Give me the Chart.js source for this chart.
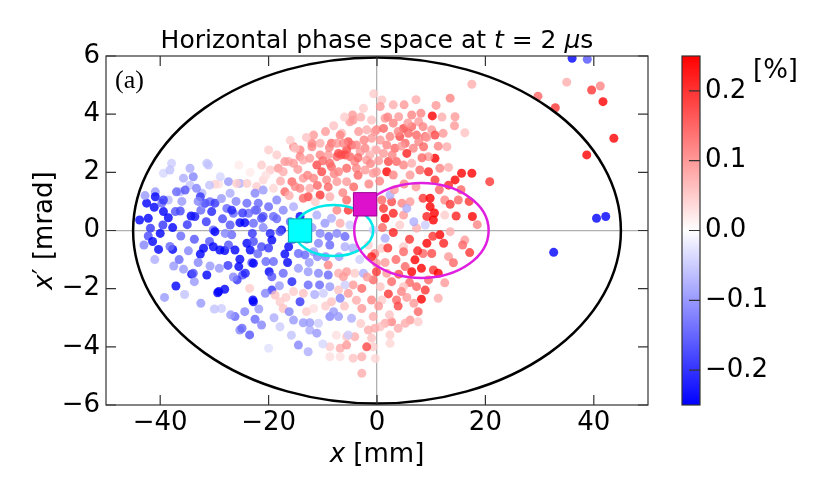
<!DOCTYPE html>
<html>
<head>
<meta charset="utf-8">
<script src="https://cdn.jsdelivr.net/npm/chart.js@4.4.1/dist/chart.umd.min.js"></script>
<style>
  html, body { margin: 0; padding: 0; background: #fff; }
  #wrap { width: 830px; height: 498px; }
</style>
</head>
<body>
<div id="wrap"><canvas id="phase"></canvas></div>
<script>
// particle positions x [mm], x' [mrad] and colour value dp [%]
const xs = [
  -43.8,-42.5,-41.1,-42.2,-41.8,-42.2,-41.4,-40.3,-40,-39.4,-38.5,-39.5,-37.7,-40.9,-39.7,-37.7,-38.2,-37.2,-36.3,-36.2,
  -37.5,-37.1,-39.2,-35.7,-34.2,-33.7,-34.3,-33.6,-33.7,-32.5,-32,-32.6,-32,-31.4,-30.8,-30.9,-30.8,-30.2,-30.5,-29.9,
  -30.2,-29.1,-29.4,-28.1,-29,-28.1,-27.4,-27.1,-27.4,-27.7,-26.5,-26.8,-26.2,-25.3,-24.4,-25.3,-25.5,-24.8,-24,-23.4,
  -23.7,-22.5,-23.1,-22.8,-25.3,-29.2,-24,-25.5,-37.9,-39.4,-31.1,-35.7,-33.9,-34.5,-28.9,-29.9,-27.1,-32.3,-36.3,-38.5,
  -30.9,-40.9,-39.4,-37,-35.4,-33.3,-32.6,-31.7,-29.9,-26.8,-21.9,-24,-21,-17.6,-38.2,-34.5,-31.4,-25.9,-22.2,-15.4,
  -14.2,-12,-4.4,-8.7,-33.9,
  -4.5,-5,-6.5,-3.4,-1.9,-1,-0.1,-6.8,-8.4,-7.4,-5.3,-4.7,-3.8,-2.4,-2.2,-5.6,-6.6,-5.9,-7.4,-7.1,
  -5,-3.1,-1.3,-1.9,-4.1,-0.4,-12,-11.7,-14.2,-15.1,-16.3,-17,-20,-21.3,-19.7,-18.2,-17.3,-15.4,-13.6,-12.4,
  -10.5,-9,-11.1,-10.2,-8.4,-7.1,-5.6,-3.8,-2.2,-0.7,-15.7,-17,-15.1,-14.2,-12.4,-13.6,-11.7,-9.3,-7.4,-5.6,
  -10.5,-12.7,-13.6,-11.4,-8.7,-5.6,-5.3,-7.4,-19.1,-21,-22.5,-21,-18.5,-20,-22.2,-21.3,-22.8,-19.1,-17.3,-15.4,
  -14.2,-19.7,-17.9,-16.3,-17,-19.4,-21.3,-22.8,-14.5,-13.3,-11.1,-9.6,-8.4,-10.5,-8.9,-7.4,-5.9,-8.7,-10.8,-6.8,
  -5,-5.9,-11.7,
  13.5,10.2,8.1,5,3,0.9,0.6,1.5,4,6.4,7.7,3,1.2,-0.4,4.9,6.4,8.5,10.1,14.4,14.3,
  16.2,12.2,10.7,8.9,7.3,5.8,4.2,2.4,0.6,5.2,7.7,8.6,6.7,5.5,3.3,1.8,-0.1,1.2,10.7,9.5,
  12.9,2.1,3.6,4.9,6.4,7.9,9.5,11.6,13.2,15.6,17.5,20.8,14.4,13.2,10.7,1.8,-0.1,3,6.1,0.9,
  2.7,4.6,6.1,8.5,9.8,12.5,15,9.8,10.6,1.2,3,4.9,1.5,9.2,10.4,14.6,17.6,12.5,3,4.2,
  7.3,11.6,9.2,10.3,12.3,16.2,4.9,1.5,5.5,6.8,8.9,2.4,-0.7,
  36,38.8,35,41.2,39.6,41.7,29.7,32.9,43.7,38.7,40.5,42.2,17.5,32.6,
  7,6.4,8.2,10.4,11.3,5.2,4.9,8.5,10.1,13.2,14.1,17.1,15.8,13.5,8.9,7.3,6,8.2,11.3,3.6,
  3.9,7.6,6.1,5.2,2.7,1.5,2.1,0.6,-0.4,2.4,3.9,7.6,2.4,-0.7,-0.7,-1,-0.7,2.7,0.9,0.6,
  4.9,1.8,-0.1,-0.4,
  -24.3,-25.8,-22.8,-20.5,-19.9,-19.1,-19.4,-17.3,-15.7,-16.5,-14.5,-12.7,-10.8,-9,-7.1,-5.6,-9,-6.2,-4.1,-2.5,
  -2.8,-4.4,-5.9,-7.1,-8.7,-10.6,-12.7,-15.4,-19.4,-18.8,-22.9,-23.5,-20.6,-14.2,-13.6,-17.9,-17.3,-16.2,-13,-11.7,
  -12.4,-13.6,-10.8,-8.7,-8,-7.1,-4.7,-2.8,-6.8,-8.4,-5.3,-9.9,-26.2,-25.3,-23.5,-22.5,-21.3,-17.9,-14.5,-12.7,
  -8.7,-6.8,-5.6,-4.1,-1.9,-4.4,-2.8,-8.7,-20,-1.6,-1,-0.1,0.9,
  -29.2,-28.7,-24.4,-24.9,-15.4,-12.4,-11.1,-5.6,-2.8,-6.8,-5.3,
  -35,-34.8,-36.5,-33,-31.5,-28.5,-28,-26,-24.8,-23,-22,-21,-20,-18.5,-16,-15.5,-13,-12,-12.5,-11,
  -43,-42.8,-41,-36,-33,-28.7,-26.5,-27.5,-35.5,-32.5,-30,-27,
  -9.5,-10.5,-13,-16,-18.5,-8,-6,-3,-1,-2.5,-0.6,-3.5,-1.5,-4.3,-6.3,-9,-10,-8.8,-6.2,-3.5,
  -1.2,0.3,2.8,4.5,3.9,2,5.7,9.2,11.3,8.3,12,10.9,7.2,-17.8,-20.5,-23.4,-14.6,-12.8,-11,-7.9,-16.2,
  1,2,3.5,6,7.5,5.5,9.5,12.5,4,1.5,0.3,2.3,4.5,6.8,15.5,17,18.5,13.5,11.5,7.2,5,3.2,0.5,
  -18,-16.8,-11.5,-9.5,-6,-3.8,-1.8,-3.2,-1.6,-4.5,-7,-9.5,-3,-10,-15.8,-19,-21.8,-1,-7.5,-0.3
];
const ys = [
  0.36,0.94,0.8,0.42,0.08,-0.19,-0.38,-0.65,-0.1,0.65,0.44,0.19,0.1,1.33,0.94,-0.65,-0.55,0.65,0.67,-0.19,
  -1.22,-1.91,-2.3,-1.33,-1.5,-1.76,0.5,0.48,-0.3,0.7,0.9,-0.81,-0.61,-1.53,-1.22,-0.38,0.99,0.02,0.65,-0.04,
  -0.56,-1.3,-2.14,-2.02,-0.67,-0.69,-0.5,0.19,1.68,0.76,0.59,-0.15,-0.67,0.27,0.27,-0.99,-1.24,-1.53,-0.44,-0.67,
  0.59,0.7,-1.11,-2.45,1.62,1.6,1.62,2.25,2.31,1.97,2.25,1.8,1.85,1.56,1.85,1.59,1.28,1.28,1.33,1.05,
  1.56,1.16,1.05,1.33,1.39,1.45,1.16,0.94,0.94,0.7,0.94,0.94,0.48,0.02,2.08,2.14,2.31,1.62,1.51,2.88,
  2.54,2.88,3.8,2.31,-1.47,
  3.97,3.74,3.34,3.4,3.46,3.17,3.46,3.28,3,3,3.05,2.94,2.94,3.11,2.83,2.77,2.6,2.6,2.54,2.65,
  2.54,2.71,2.6,2.42,2.37,2.77,3,3.28,2.77,2.83,2.37,2.37,2.77,2.25,2.08,2.14,2.02,2.31,2.42,2.48,
  2.6,2.6,2.25,2.02,2.19,2.02,2.14,2.14,2.08,1.97,1.68,1.33,1.51,1.45,1.45,1.8,1.8,1.74,1.68,1.68,
  1.22,1.16,1.11,0.99,1.16,1.05,0.7,0.7,1.45,1.74,1.28,1.39,1.05,0.82,0.7,0.42,0.25,0.48,0.7,0.82,
  0.48,-0.1,-0.04,-0.56,-0.81,-0.33,-0.56,-0.38,-0.79,-0.84,0.53,0.25,0.42,-0.1,-0.21,-0.1,-0.21,-0.5,-0.44,0.25,
  0.19,-0.56,-0.73,
  4.55,3.94,4.03,4.32,4.32,4.49,4.26,3.86,3.91,3.97,3.74,3.69,3.51,3.4,3.51,3.57,3.57,3.46,3.91,3.6,
  3.36,3.34,3.28,3.23,3.28,3.34,3.23,3.23,3.11,3,3.05,2.88,2.83,2.65,2.83,2.94,2.77,2.65,2.48,2.54,
  2.88,2.37,2.37,2.25,2.31,2.08,2.02,2.14,2.17,1.97,1.97,1.68,1.74,1.56,1.74,2.02,2.02,1.91,1.91,1.05,
  0.99,0.94,0.99,1.11,1.11,1.05,1.05,0.82,0.6,0.76,0.59,0.53,0.42,0.48,0.36,0.5,0.48,0.53,-0.07,0.19,
  0.08,-0.15,-0.44,-0.2,-0.44,-0.33,-0.56,-0.27,0.76,0.3,0.19,1.22,0.02,
  5.92,5.89,5.1,4.97,4.83,4.43,4.62,4.22,3.17,2.6,0.42,0.48,5.03,-0.75,
  -1.01,-1.42,-1.3,-1.36,-1.47,-1.24,-0.73,-0.79,-0.79,-0.9,-1.11,-0.76,-0.5,-0.04,-2.05,-1.93,-1.79,-2.36,-2.33,-2.39,
  -2.6,-2.79,-3.08,-3.19,-3.14,-3.19,-2.18,-3.31,-3.36,-3.59,-3.36,-3.14,-3.88,-4,-1.7,-2.39,-2.96,-1.76,-2.39,-1.93,
  -1.93,-1.47,-1.13,-0.79,
  -1.47,-1.7,-1.13,-1.07,-1.42,-1.07,-1.59,-1.47,-1.76,-1.1,-1.3,-1.42,-1.47,-1.53,-1.47,-1.42,-1.19,-1.59,-1.47,-1.47,
  -1.99,-1.87,-1.87,-2.05,-1.93,-1.87,-1.87,-2.1,-2.05,-2.22,-2.39,-1.99,-2.16,-2.45,-2.16,-2.45,-2.68,-2.79,-2.79,-2.68,
  -3.17,-3.17,-3.19,-2.96,-2.79,-2.96,-3.02,-2.68,-2.33,-2.45,-2.16,-2.16,-2.96,-3.42,-3.59,-3.05,-3.25,-3.31,-3.94,-4.17,
  -4,-4.05,-3.65,-3.65,-4,-4.39,-4.34,-4.34,-4.05,-3.42,-0.9,-1.42,-0.61,
  -2.1,-2.68,-2.79,-3.36,-3.08,-3.42,-3.53,-3.94,-4.91,-4.34,-3.59,
  0.2,-0.7,-1,-1.1,0.3,0.4,-0.1,1,0.6,-0.1,-0.8,0.1,-0.6,0.4,0.3,-0.3,-0.3,0.1,-1.1,-0.9,
  -0.5,1.2,-1,1,1,1.1,-1.6,-1.2,-2.2,-2.5,-2.7,-2.9,
  3.4,3,3.2,3.1,2.6,3.6,3.9,3.9,3.8,4.2,4.7,1.9,1.6,1.5,1.3,1.5,2.4,2.85,3,2.5,
  2.3,2.4,2.6,2.9,3.4,3.9,3.7,3.2,2.9,2.5,3.9,4.3,4.5,1.7,1.9,2,2.1,1.9,1.55,1.95,1.2,
  0.1,-0.6,-1,-0.3,-0.7,-2.3,-1.7,-1.8,-1.5,-1.1,-2.6,-2.9,-2.1,-2.5,1.4,1,0.2,0.9,1.4,1.5,1.6,1.4,1.7,
  -1.9,-2.3,-2.2,-2.6,-2.6,-2.4,-1.6,-1,-0.5,-0.6,-0.9,-0.9,-3.2,-3.9,-3.6,-3,-2.7,-3.7,-3.6,-4.4
];
const dp = [
  -0.25,-0.25,-0.25,-0.25,-0.2,-0.18,-0.25,-0.25,-0.25,-0.25,-0.25,-0.2,-0.25,-0.1,-0.15,-0.25,-0.15,-0.17,-0.18,-0.15,
  -0.1,-0.25,-0.1,-0.1,-0.25,-0.1,-0.25,-0.23,-0.17,-0.15,-0.1,-0.25,-0.25,-0.25,-0.1,-0.17,-0.15,-0.15,-0.22,-0.25,
  -0.25,-0.1,-0.25,-0.25,-0.25,-0.25,-0.17,-0.17,-0.1,-0.15,-0.15,-0.15,-0.25,-0.25,-0.25,-0.25,-0.25,-0.17,-0.25,-0.25,
  -0.15,-0.15,-0.17,-0.25,-0.08,0.03,0.05,0.02,-0.05,-0.04,-0.06,-0.08,-0.12,-0.06,-0.04,0.04,-0.08,-0.07,-0.07,-0.07,
  -0.06,-0.25,-0.2,-0.15,-0.17,-0.12,-0.2,-0.17,-0.2,-0.22,-0.15,-0.15,-0.17,-0.25,-0.06,-0.08,-0.06,0.05,0.05,0.12,
  0.12,0.12,0.1,0.15,-0.17,
  0.1,0.1,0.07,0.1,0.08,0.1,0.12,0.12,0.15,0.1,0.17,0.15,0.12,0.12,0.12,0.18,0.18,0.18,0.15,0.18,
  0.15,0.1,0.08,0.1,0.12,0.05,0.12,0.1,0.12,0.06,0.08,0.1,0.05,0.05,0.05,0.1,0.08,0.1,0.08,0.1,
  0.12,0.1,0.18,0.18,0.15,0.12,0.15,0.12,0.1,0.1,0.15,0.15,0.12,0.12,0.08,0.1,0.12,0.12,0.1,0.1,
  0.2,0.18,0.15,0.05,0.08,0.15,0.2,0.12,0.04,0.04,-0.12,-0.1,-0.12,-0.15,-0.15,-0.18,-0.15,-0.15,-0.12,-0.08,
  -0.25,-0.22,-0.17,-0.25,-0.25,-0.25,-0.18,-0.18,-0.15,-0.15,-0.08,-0.1,-0.08,-0.12,-0.15,-0.12,-0.15,-0.15,-0.12,0.08,
  -0.05,-0.08,-0.1,
  0.12,0.25,0.12,0.1,0.08,0.06,0.1,0.1,0.1,0.12,0.1,0.12,0.15,0.1,0.18,0.15,0.12,0.1,0.1,0.1,
  0.06,0.1,0.18,0.15,0.15,0.15,0.18,0.12,0.1,0.15,0.12,0.15,0.12,0.22,0.15,0.12,0.08,0.1,0.25,0.1,
  0.08,0.18,0.15,0.12,0.08,0.15,0.22,0.12,0.08,0.25,0.25,0.2,0.25,0.22,0.2,0.25,0.1,0.12,0.1,0.15,
  0.18,0.12,0.1,0.2,0.25,0.12,0.15,0.25,0.25,0.2,0.22,0.1,0.25,0.22,0.25,0.22,0.25,0.05,0.22,0.05,
  0.08,0.25,0.25,0.2,0.22,0.1,0.05,-0.08,-0.08,-0.08,-0.05,-0.08,-0.05,
  -0.25,-0.17,0.08,0.12,0.2,0.25,0.15,0.2,0.25,0.25,-0.25,-0.25,0.08,-0.25,
  0.25,0.25,0.25,0.2,0.25,0.15,0.15,0.15,0.18,0.1,0.15,0.2,0.15,0.08,0.2,0.15,0.15,0.25,0.08,0.15,
  0.18,0.15,0.1,0.08,0.12,0.08,0.2,0.06,0.08,0.05,0.08,0.05,0.04,0.05,0.15,0.12,0.08,0.15,0.05,0.06,
  0.06,0.1,0.1,0.12,
  -0.22,-0.2,-0.25,-0.15,-0.25,-0.15,-0.17,-0.15,-0.22,-0.25,-0.1,-0.1,-0.12,-0.15,0.08,0.1,0.12,0.1,0.05,-0.08,
  0.15,0.1,-0.05,0.06,-0.1,-0.15,-0.15,0.05,-0.2,0.06,-0.25,0.05,-0.12,-0.2,0.06,0.05,0.06,-0.12,0.05,0.03,
  -0.1,-0.1,-0.05,-0.12,-0.1,-0.1,-0.08,0.1,-0.12,0.06,0.1,-0.05,-0.15,-0.12,-0.17,-0.15,-0.12,-0.05,-0.12,-0.08,
  0.05,0.08,0.06,0.08,0.18,0.06,0.08,0.03,-0.03,0.08,0.22,0.2,0.05,
  -0.25,-0.05,-0.12,-0.15,-0.1,-0.08,-0.1,0.1,0.08,0.03,-0.05,
  -0.2,-0.12,-0.15,-0.12,-0.2,-0.18,-0.12,-0.12,-0.2,-0.2,-0.15,-0.12,-0.2,-0.15,-0.15,-0.2,-0.12,-0.1,-0.1,-0.12,
  -0.12,-0.1,-0.08,-0.1,-0.12,-0.1,-0.12,-0.2,-0.06,-0.1,-0.06,-0.1,
  0.1,0.08,0.06,0.05,0.05,0.06,0.05,0.08,0.06,0.05,0.05,0.15,0.12,0.15,0.12,0.15,0.15,0.12,0.12,0.15,
  0.12,0.1,0.12,0.1,0.12,0.12,0.1,0.1,0.12,0.15,0.08,0.1,0.08,0.08,0.03,0.02,0.1,0.12,0.15,0.12,0.08,
  0.15,0.2,0.15,0.2,0.22,0.1,0.15,0.1,0.18,0.1,0.1,0.06,0.12,0.1,0.15,0.2,0.12,0.2,0.15,0.1,0.12,0.1,0.12,
  -0.1,0.05,-0.08,0.05,0.06,0.08,0.1,-0.05,0.05,-0.08,-0.1,-0.12,0.05,-0.04,-0.06,-0.08,-0.1,0.06,0.03,0.04
];

// axis ticks and colour bar
const xTicks = [-40, -20, 0, 20, 40];
const yTicks = [-6, -4, -2, 0, 2, 4, 6];
const cbarTicks = [-0.2, -0.1, 0.0, 0.1, 0.2];
const cbarRange = [-0.25, 0.25];

// ellipses: acceptance, cyan, magenta
const ellipseCx = [0, -8, 8.2];
const ellipseCy = [0, 0, 0];
const ellipseRx = [45, 7.3, 12.4];
const ellipseRy = [5.95, 0.88, 1.63];
const ellipseColors = ['#000000', '#00e8e8', '#e01ee0'];

// centroid markers (cyan, magenta)
const centroidX = [-14.2, -2.2];
const centroidY = [0, 0.9];

const FONT = '"DejaVu Sans", sans-serif';

// blue-white-red colour map
function bwr(v) {
  let t = (v - cbarRange[0]) / (cbarRange[1] - cbarRange[0]);
  t = Math.max(0, Math.min(1, t));
  let r, g, b;
  if (t < 0.5) { r = g = Math.round(510 * t); b = 255; }
  else { r = 255; g = b = Math.round(510 * (1 - t)); }
  return 'rgba(' + r + ',' + g + ',' + b + ',0.8)';
}

function minus(s) { return String(s).replace('-', '\u2212'); }

// draw text made of pieces with different styles
function richText(ctx, parts, x, y, size, align) {
  let total = 0;
  parts.forEach(p => {
    ctx.font = (p[1] ? 'italic ' : '') + size + 'px ' + FONT;
    total += ctx.measureText(p[0]).width;
  });
  let cx = align === 'center' ? x - total / 2 : x;
  ctx.textAlign = 'left';
  parts.forEach(p => {
    ctx.font = (p[1] ? 'italic ' : '') + size + 'px ' + FONT;
    ctx.fillText(p[0], cx, y);
    cx += ctx.measureText(p[0]).width;
  });
}

const decorPlugin = {
  id: 'decor',
  beforeDraw(chart) {
    const ctx = chart.ctx;
    ctx.save();
    ctx.fillStyle = '#fff';
    ctx.fillRect(0, 0, chart.width, chart.height);
    ctx.restore();
  },
  afterDatasetDraw(chart, args) {
    if (args.index !== 1) return;
    const ctx = chart.ctx;
    const sx = chart.scales.x, sy = chart.scales.y;
    ctx.save();
    ellipseCx.forEach((cx, i) => {
      const px = sx.getPixelForValue(cx);
      const py = sy.getPixelForValue(ellipseCy[i]);
      const rx = Math.abs(sx.getPixelForValue(cx + ellipseRx[i]) - px);
      const ry = Math.abs(sy.getPixelForValue(ellipseCy[i] + ellipseRy[i]) - py);
      ctx.beginPath();
      ctx.ellipse(px, py, rx, ry, 0, 0, Math.PI * 2);
      ctx.strokeStyle = ellipseColors[i];
      ctx.lineWidth = 2.5;
      ctx.stroke();
    });
    ctx.restore();
  },
  afterDraw(chart) {
    const ctx = chart.ctx;
    const a = chart.chartArea;
    const sx = chart.scales.x, sy = chart.scales.y, sc = chart.scales.c;
    ctx.save();

    // frame and inward ticks
    ctx.strokeStyle = '#333';
    ctx.lineWidth = 1.2;
    ctx.strokeRect(a.left, a.top, a.right - a.left, a.bottom - a.top);
    ctx.beginPath();
    xTicks.forEach(v => {
      const p = sx.getPixelForValue(v);
      ctx.moveTo(p, a.bottom); ctx.lineTo(p, a.bottom - 10);
      ctx.moveTo(p, a.top); ctx.lineTo(p, a.top + 10);
    });
    yTicks.forEach(v => {
      const p = sy.getPixelForValue(v);
      ctx.moveTo(a.left, p); ctx.lineTo(a.left + 10, p);
      ctx.moveTo(a.right, p); ctx.lineTo(a.right - 10, p);
    });
    ctx.stroke();

    // colour bar
    const cbL = 682, cbR = 700;
    const cTop = sc.getPixelForValue(cbarRange[1]);
    const cBot = sc.getPixelForValue(cbarRange[0]);
    const grad = ctx.createLinearGradient(0, cTop, 0, cBot);
    grad.addColorStop(0, 'rgb(255,0,0)');
    grad.addColorStop(0.5, 'rgb(255,255,255)');
    grad.addColorStop(1, 'rgb(0,0,255)');
    ctx.fillStyle = grad;
    ctx.fillRect(cbL, cTop, cbR - cbL, cBot - cTop);
    ctx.strokeStyle = '#333';
    ctx.strokeRect(cbL, cTop, cbR - cbL, cBot - cTop);
    ctx.fillStyle = '#000';
    ctx.font = '26px ' + FONT;
    ctx.textBaseline = 'middle';
    ctx.textAlign = 'left';
    ctx.beginPath();
    cbarTicks.forEach(v => {
      const p = sc.getPixelForValue(v);
      ctx.moveTo(cbR, p); ctx.lineTo(cbR - 11, p);
      ctx.fillText(minus(v.toFixed(1)), cbR + 5, p);
    });
    ctx.stroke();
    ctx.textBaseline = 'alphabetic';
    ctx.fillText('[%]', 753, 78);

    // title and axis labels
    const mid = (a.left + a.right) / 2;
    richText(ctx, [['Horizontal phase space at ', false], ['t', true], [' = 2 ', false], ['\u03bc', true], ['s', false]], mid, 48, 25, 'center');
    richText(ctx, [['x', true], [' [mm]', false]], mid, 462, 26, 'center');
    ctx.save();
    ctx.translate(52, (a.top + a.bottom) / 2);
    ctx.rotate(-Math.PI / 2);
    richText(ctx, [['x', true], ['\u2032 [mrad]', false]], 0, 0, 26, 'center');
    ctx.restore();

    ctx.font = '26px "Liberation Serif", serif';
    ctx.textAlign = 'left';
    ctx.fillText('(a)', 115, 88);
    ctx.restore();
  }
};

const ctx = document.getElementById('phase').getContext('2d');
new Chart(ctx, {
  type: 'scatter',
  data: {
    datasets: [{
      label: 'centroids',
      data: centroidX.map((x, i) => ({ x: x, y: centroidY[i] })),
      pointStyle: 'rect',
      pointRadius: 16.5,
      backgroundColor: ['#00ffff', '#dd10cc'],
      borderColor: ['#00a8a8', '#9a0090'],
      borderWidth: 1
    }, {
      label: 'particles',
      data: xs.map((x, i) => ({ x: x, y: ys[i] })),
      pointRadius: 4.5,
      borderWidth: 0,
      backgroundColor: dp.map(bwr)
    }]
  },
  options: {
    responsive: true,
    maintainAspectRatio: false,
    animation: false,
    events: [],
    layout: { padding: { top: 56, right: 182, left: 0, bottom: 0 } },
    plugins: { legend: { display: false }, tooltip: { enabled: false } },
    scales: {
      x: {
        type: 'linear', min: -50, max: 50,
        afterBuildTicks: s => { s.ticks = xTicks.map(v => ({ value: v })); },
        afterFit: s => { s.height = 93; },
        border: { display: false },
        grid: { drawTicks: false, lineWidth: 1.3, color: c => (c.tick && c.tick.value === 0) ? '#b0b0b0' : 'rgba(0,0,0,0)' },
        ticks: { font: { family: FONT, size: 26 }, color: '#000', padding: 3, maxRotation: 0, callback: v => minus(v) }
      },
      y: {
        type: 'linear', min: -6, max: 6,
        afterBuildTicks: s => { s.ticks = yTicks.map(v => ({ value: v })); },
        afterFit: s => { s.width = 106; },
        border: { display: false },
        grid: { drawTicks: false, lineWidth: 1.3, color: c => (c.tick && c.tick.value === 0) ? '#b0b0b0' : 'rgba(0,0,0,0)' },
        ticks: { font: { family: FONT, size: 26 }, color: '#000', padding: 6, callback: v => minus(v) }
      },
      c: { type: 'linear', axis: 'y', position: 'right', display: false, min: cbarRange[0], max: cbarRange[1] }
    }
  },
  plugins: [decorPlugin]
});
</script>
</body>
</html>
